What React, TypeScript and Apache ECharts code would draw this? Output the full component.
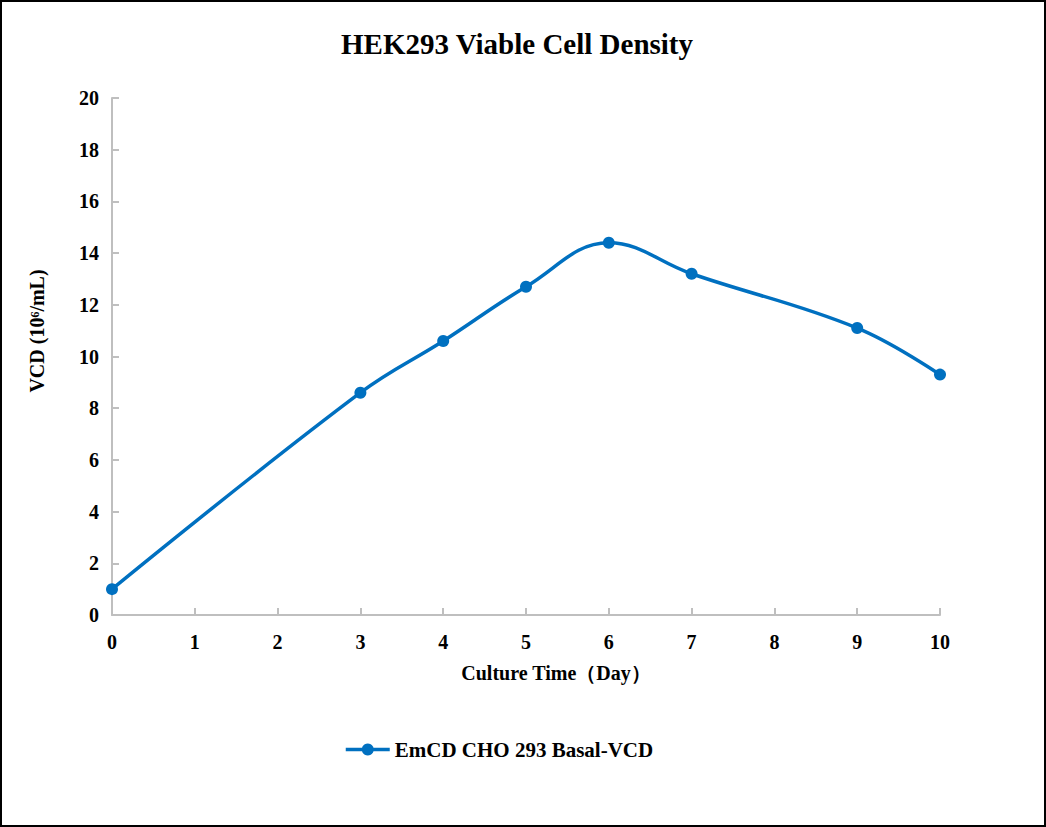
import React, { useEffect, useRef } from "react";
import * as echarts from "echarts";

const days = [0, 3, 4, 5, 6, 7, 9, 10];
const vcd = [1.0, 8.6, 10.6, 12.7, 14.4, 13.2, 11.1, 9.3];
const seriesName = "EmCD CHO 293 Basal-VCD";
const titleText = "HEK293 Viable Cell Density";
const xName = "Culture Time（Day）";
const yName = "VCD (10⁶/mL)";

const FONT = "'Liberation Serif', 'Times New Roman', serif";
const BLUE = "#0070C0";

export default function App() {
  const ref = useRef<HTMLDivElement>(null);
  useEffect(() => {
    const chart = echarts.init(ref.current!, null, { renderer: "svg" });
    chart.setOption({
      animation: false,
      backgroundColor: "#fff",
      title: {
        text: titleText,
        left: 512,
        textAlign: "center",
        top: 24,
        textStyle: { fontFamily: FONT, fontWeight: "bold", fontSize: 29, color: "#000" },
      },
      grid: { left: 112, right: 106, top: 98, bottom: 212 },
      legend: {
        data: [seriesName],
        left: 339,
        top: 734,
        itemWidth: 44,
        itemHeight: 15,
        itemGap: 8,
        lineStyle: { width: 3.5 },
        textStyle: { fontFamily: FONT, fontWeight: "bold", fontSize: 21, color: "#000" },
      },
      xAxis: {
        type: "value",
        min: 0,
        max: 10,
        interval: 1,
        axisLine: { lineStyle: { color: "#BFBFBF", width: 2 } },
        axisTick: { show: true, inside: true, length: 7, lineStyle: { color: "#BFBFBF", width: 2 } },
        splitLine: { show: false },
        axisLabel: { margin: 17, fontFamily: FONT, fontWeight: "bold", fontSize: 20, color: "#000" },
      },
      yAxis: {
        type: "value",
        min: 0,
        max: 20,
        interval: 2,
        axisLine: { show: true, lineStyle: { color: "#BFBFBF", width: 2 } },
        axisTick: { show: true, inside: true, length: 7, lineStyle: { color: "#BFBFBF", width: 2 } },
        splitLine: { show: false },
        axisLabel: { margin: 13, fontFamily: FONT, fontWeight: "bold", fontSize: 20, color: "#000" },
      },
      graphic: [
        {
          type: "rect",
          shape: { x: 1, y: 1, width: 1044, height: 825 },
          style: { fill: "none", stroke: "#000", lineWidth: 2 },
          silent: true,
        },
        {
          type: "text",
          x: 556,
          y: 673,
          style: {
            text: xName,
            font: `bold 20px ${FONT}`,
            fill: "#000",
            textAlign: "center",
            textVerticalAlign: "middle",
          },
        },
        {
          type: "text",
          x: 37,
          y: 331,
          rotation: Math.PI / 2,
          style: {
            text: yName,
            font: `bold 20px ${FONT}`,
            fill: "#000",
            textAlign: "center",
            textVerticalAlign: "middle",
          },
        },
      ],
      series: [
        {
          name: seriesName,
          type: "line",
          data: days.map((d, i) => [d, vcd[i]]),
          smooth: 0.4,
          symbol: "circle",
          symbolSize: 12,
          lineStyle: { color: BLUE, width: 3.5 },
          itemStyle: { color: BLUE },
        },
      ],
    });
    return () => chart.dispose();
  }, []);
  return (
    <div
      ref={ref}
      style={{ position: "absolute", left: 0, top: 0, width: 1046, height: 827 }}
    />
  );
}
